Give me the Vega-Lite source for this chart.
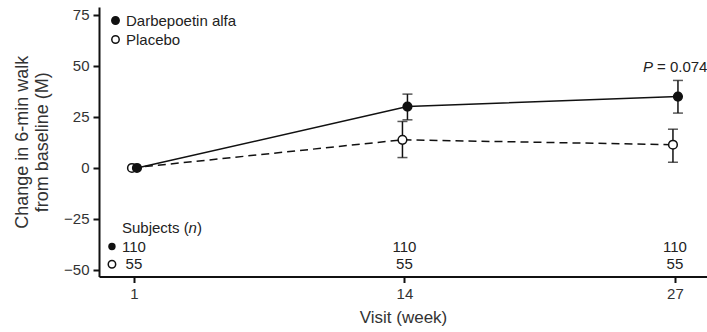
{
  "$schema": "https://vega.github.io/schema/vega-lite/v6.json",
  "width": 608,
  "height": 269.5,
  "autosize": {"type": "none"},
  "padding": {"left": 99, "top": 7, "right": 0, "bottom": 56},
  "background": "white",
  "config": {
    "view": {"stroke": null},
    "font": "Liberation Sans",
    "axis": {
      "grid": false,
      "domainColor": "#111",
      "domainWidth": 2,
      "tickColor": "#111",
      "tickWidth": 2,
      "tickSize": 6,
      "labelFontSize": 15,
      "labelColor": "#333",
      "labelPadding": 4,
      "titleFontSize": 17,
      "titleFontWeight": "normal",
      "titleColor": "#333"
    },
    "axisY": {"titleFontSize": 18, "titleLineHeight": 20, "titlePadding": 12}
  },
  "datasets": {
    "means": [
      {"week": 1, "group": "Darbepoetin alfa", "mean": 0, "lower": null, "upper": null},
      {"week": 14, "group": "Darbepoetin alfa", "mean": 30.1, "lower": 23.6, "upper": 36.2},
      {"week": 27, "group": "Darbepoetin alfa", "mean": 35.0, "lower": 26.9, "upper": 42.9},
      {"week": 1, "group": "Placebo", "mean": 0, "lower": null, "upper": null},
      {"week": 14, "group": "Placebo", "mean": 13.8, "lower": 5.1, "upper": 22.8},
      {"week": 27, "group": "Placebo", "mean": 11.4, "lower": 2.8, "upper": 19.0}
    ],
    "counts": [
      {"week": 1, "group": "Darbepoetin alfa", "n": 110},
      {"week": 14, "group": "Darbepoetin alfa", "n": 110},
      {"week": 27, "group": "Darbepoetin alfa", "n": 110},
      {"week": 1, "group": "Placebo", "n": 55},
      {"week": 14, "group": "Placebo", "n": 55},
      {"week": 27, "group": "Placebo", "n": 55}
    ],
    "notes": [
      {"label": "subjects"}
    ]
  },
  "layer": [
    {
      "data": {"name": "means"},
      "transform": [{"filter": "datum.group === 'Darbepoetin alfa'"}],
      "mark": {"type": "line", "color": "#111", "strokeWidth": 1.5, "xOffset": 3},
      "encoding": {
        "x": {"field": "week", "type": "quantitative", "scale": {"domain": [-0.68, 28.54], "nice": false, "zero": false},
          "axis": {"values": [1, 14, 27], "title": "Visit (week)", "titlePadding": 8}},
        "y": {"field": "mean", "type": "quantitative", "scale": {"domain": [-53.2, 78.9], "nice": false, "zero": false},
          "axis": {"values": [-50, -25, 0, 25, 50, 75], "title": ["Change in 6-min walk", "from baseline (M)"]}}
      }
    },
    {
      "data": {"name": "means"},
      "transform": [{"filter": "datum.group === 'Placebo'"}],
      "mark": {"type": "line", "color": "#111", "strokeWidth": 1.5, "strokeDash": [8, 5], "xOffset": -2},
      "encoding": {
        "x": {"field": "week", "type": "quantitative", "axis": {"values": [1, 14, 27], "title": "Visit (week)", "titlePadding": 8}},
        "y": {"field": "mean", "type": "quantitative", "axis": {"values": [-50, -25, 0, 25, 50, 75], "title": ["Change in 6-min walk", "from baseline (M)"]}}
      }
    },
    {
      "data": {"name": "means"},
      "transform": [{"filter": "datum.group === 'Darbepoetin alfa'"}],
      "mark": {"type": "rule", "color": "#111", "strokeWidth": 1.5, "xOffset": 3},
      "encoding": {
        "x": {"field": "week", "type": "quantitative", "axis": {"values": [1, 14, 27], "title": "Visit (week)", "titlePadding": 8}},
        "y": {"field": "lower", "type": "quantitative", "axis": {"values": [-50, -25, 0, 25, 50, 75], "title": ["Change in 6-min walk", "from baseline (M)"]}},
        "y2": {"field": "upper"}
      }
    },
    {
      "data": {"name": "means"},
      "transform": [{"filter": "datum.group === 'Placebo'"}],
      "mark": {"type": "rule", "color": "#111", "strokeWidth": 1.5, "xOffset": -2},
      "encoding": {
        "x": {"field": "week", "type": "quantitative", "axis": {"values": [1, 14, 27], "title": "Visit (week)", "titlePadding": 8}},
        "y": {"field": "lower", "type": "quantitative", "axis": {"values": [-50, -25, 0, 25, 50, 75], "title": ["Change in 6-min walk", "from baseline (M)"]}},
        "y2": {"field": "upper"}
      }
    },
    {
      "data": {"name": "means"},
      "transform": [{"filter": "datum.group === 'Darbepoetin alfa'"}],
      "mark": {"type": "tick", "orient": "horizontal", "color": "#111", "size": 10, "thickness": 1.5, "xOffset": 3},
      "encoding": {
        "x": {"field": "week", "type": "quantitative", "axis": {"values": [1, 14, 27], "title": "Visit (week)", "titlePadding": 8}},
        "y": {"field": "upper", "type": "quantitative", "axis": {"values": [-50, -25, 0, 25, 50, 75], "title": ["Change in 6-min walk", "from baseline (M)"]}}
      }
    },
    {
      "data": {"name": "means"},
      "transform": [{"filter": "datum.group === 'Darbepoetin alfa'"}],
      "mark": {"type": "tick", "orient": "horizontal", "color": "#111", "size": 10, "thickness": 1.5, "xOffset": 3},
      "encoding": {
        "x": {"field": "week", "type": "quantitative", "axis": {"values": [1, 14, 27], "title": "Visit (week)", "titlePadding": 8}},
        "y": {"field": "lower", "type": "quantitative", "axis": {"values": [-50, -25, 0, 25, 50, 75], "title": ["Change in 6-min walk", "from baseline (M)"]}}
      }
    },
    {
      "data": {"name": "means"},
      "transform": [{"filter": "datum.group === 'Placebo'"}],
      "mark": {"type": "tick", "orient": "horizontal", "color": "#111", "size": 10, "thickness": 1.5, "xOffset": -2},
      "encoding": {
        "x": {"field": "week", "type": "quantitative", "axis": {"values": [1, 14, 27], "title": "Visit (week)", "titlePadding": 8}},
        "y": {"field": "upper", "type": "quantitative", "axis": {"values": [-50, -25, 0, 25, 50, 75], "title": ["Change in 6-min walk", "from baseline (M)"]}}
      }
    },
    {
      "data": {"name": "means"},
      "transform": [{"filter": "datum.group === 'Placebo'"}],
      "mark": {"type": "tick", "orient": "horizontal", "color": "#111", "size": 10, "thickness": 1.5, "xOffset": -2},
      "encoding": {
        "x": {"field": "week", "type": "quantitative", "axis": {"values": [1, 14, 27], "title": "Visit (week)", "titlePadding": 8}},
        "y": {"field": "lower", "type": "quantitative", "axis": {"values": [-50, -25, 0, 25, 50, 75], "title": ["Change in 6-min walk", "from baseline (M)"]}}
      }
    },
    {
      "data": {"name": "means"},
      "transform": [{"filter": "datum.group === 'Placebo'"}],
      "mark": {"type": "point", "filled": false, "shape": "circle", "size": 75, "stroke": "#111", "strokeWidth": 1.5, "opacity": 1, "xOffset": -2},
      "encoding": {
        "x": {"field": "week", "type": "quantitative", "axis": {"values": [1, 14, 27], "title": "Visit (week)", "titlePadding": 8}},
        "y": {"field": "mean", "type": "quantitative", "axis": {"values": [-50, -25, 0, 25, 50, 75], "title": ["Change in 6-min walk", "from baseline (M)"]}},
        "fill": {"field": "group", "type": "nominal",
          "scale": {"domain": ["Darbepoetin alfa", "Placebo"], "range": ["#111", "white"]},
          "legend": {"title": null, "orient": "none", "legendX": 9, "legendY": 6,
            "symbolType": "circle", "symbolSize": 55, "symbolStrokeColor": "#111", "symbolStrokeWidth": 1.5,
            "labelFontSize": 15, "labelColor": "#222", "labelOffset": 3, "rowPadding": 3}}
      }
    },
    {
      "data": {"name": "means"},
      "transform": [{"filter": "datum.group === 'Darbepoetin alfa'"}],
      "mark": {"type": "point", "filled": true, "shape": "circle", "size": 75, "stroke": "#111", "strokeWidth": 1.5, "opacity": 1, "xOffset": 3},
      "encoding": {
        "x": {"field": "week", "type": "quantitative", "axis": {"values": [1, 14, 27], "title": "Visit (week)", "titlePadding": 8}},
        "y": {"field": "mean", "type": "quantitative", "axis": {"values": [-50, -25, 0, 25, 50, 75], "title": ["Change in 6-min walk", "from baseline (M)"]}},
        "fill": {"field": "group", "type": "nominal", "legend": null}
      }
    },
    {
      "data": {"name": "counts"},
      "transform": [{"filter": "datum.group === 'Darbepoetin alfa'"}],
      "mark": {"type": "text", "fontSize": 15, "color": "#222", "align": "center", "baseline": "middle"},
      "encoding": {
        "x": {"field": "week", "type": "quantitative", "axis": {"values": [1, 14, 27], "title": "Visit (week)", "titlePadding": 8}},
        "y": {"datum": -38.5, "axis": {"values": [-50, -25, 0, 25, 50, 75], "title": ["Change in 6-min walk", "from baseline (M)"]}},
        "text": {"field": "n", "type": "nominal"}
      }
    },
    {
      "data": {"name": "counts"},
      "transform": [{"filter": "datum.group === 'Placebo'"}],
      "mark": {"type": "text", "fontSize": 15, "color": "#222", "align": "center", "baseline": "middle"},
      "encoding": {
        "x": {"field": "week", "type": "quantitative", "axis": {"values": [1, 14, 27], "title": "Visit (week)", "titlePadding": 8}},
        "y": {"datum": -47.2, "axis": {"values": [-50, -25, 0, 25, 50, 75], "title": ["Change in 6-min walk", "from baseline (M)"]}},
        "text": {"field": "n", "type": "nominal"}
      }
    },
    {
      "data": {"name": "counts"},
      "transform": [{"filter": "datum.week === 1 && datum.group === 'Darbepoetin alfa'"}],
      "mark": {"type": "point", "filled": true, "shape": "circle", "size": 55, "color": "#111", "opacity": 1, "xOffset": -22},
      "encoding": {
        "x": {"field": "week", "type": "quantitative", "axis": {"values": [1, 14, 27], "title": "Visit (week)", "titlePadding": 8}},
        "y": {"datum": -38.5, "axis": {"values": [-50, -25, 0, 25, 50, 75], "title": ["Change in 6-min walk", "from baseline (M)"]}}
      }
    },
    {
      "data": {"name": "counts"},
      "transform": [{"filter": "datum.week === 1 && datum.group === 'Placebo'"}],
      "mark": {"type": "point", "filled": false, "shape": "circle", "size": 55, "stroke": "#111", "strokeWidth": 1.5, "opacity": 1, "xOffset": -22},
      "encoding": {
        "x": {"field": "week", "type": "quantitative", "axis": {"values": [1, 14, 27], "title": "Visit (week)", "titlePadding": 8}},
        "y": {"datum": -47.2, "axis": {"values": [-50, -25, 0, 25, 50, 75], "title": ["Change in 6-min walk", "from baseline (M)"]}}
      }
    },
    {
      "data": {"name": "notes"},
      "mark": {"type": "text", "fontSize": 15, "color": "#222", "align": "left", "baseline": "middle", "text": "Subjects (", "xOffset": -12},
      "encoding": {"x": {"datum": 1, "axis": {"values": [1, 14, 27], "title": "Visit (week)", "titlePadding": 8}}, "y": {"datum": -29.2, "axis": {"values": [-50, -25, 0, 25, 50, 75], "title": ["Change in 6-min walk", "from baseline (M)"]}}}
    },
    {
      "data": {"name": "notes"},
      "mark": {"type": "text", "fontSize": 15, "color": "#222", "align": "left", "baseline": "middle", "text": "n", "fontStyle": "italic", "xOffset": 54.5},
      "encoding": {"x": {"datum": 1, "axis": {"values": [1, 14, 27], "title": "Visit (week)", "titlePadding": 8}}, "y": {"datum": -29.2, "axis": {"values": [-50, -25, 0, 25, 50, 75], "title": ["Change in 6-min walk", "from baseline (M)"]}}}
    },
    {
      "data": {"name": "notes"},
      "mark": {"type": "text", "fontSize": 15, "color": "#222", "align": "left", "baseline": "middle", "text": ")", "xOffset": 63},
      "encoding": {"x": {"datum": 1, "axis": {"values": [1, 14, 27], "title": "Visit (week)", "titlePadding": 8}}, "y": {"datum": -29.2, "axis": {"values": [-50, -25, 0, 25, 50, 75], "title": ["Change in 6-min walk", "from baseline (M)"]}}}
    },
    {
      "data": {"name": "notes"},
      "mark": {"type": "text", "fontSize": 15, "color": "#222", "align": "left", "baseline": "middle", "text": "P", "fontStyle": "italic", "xOffset": -32},
      "encoding": {"x": {"datum": 27, "axis": {"values": [1, 14, 27], "title": "Visit (week)", "titlePadding": 8}}, "y": {"datum": 49.3, "axis": {"values": [-50, -25, 0, 25, 50, 75], "title": ["Change in 6-min walk", "from baseline (M)"]}}}
    },
    {
      "data": {"name": "notes"},
      "mark": {"type": "text", "fontSize": 15, "color": "#222", "align": "left", "baseline": "middle", "text": "= 0.074", "xOffset": -18},
      "encoding": {"x": {"datum": 27, "axis": {"values": [1, 14, 27], "title": "Visit (week)", "titlePadding": 8}}, "y": {"datum": 49.3, "axis": {"values": [-50, -25, 0, 25, 50, 75], "title": ["Change in 6-min walk", "from baseline (M)"]}}}
    }
  ]
}
